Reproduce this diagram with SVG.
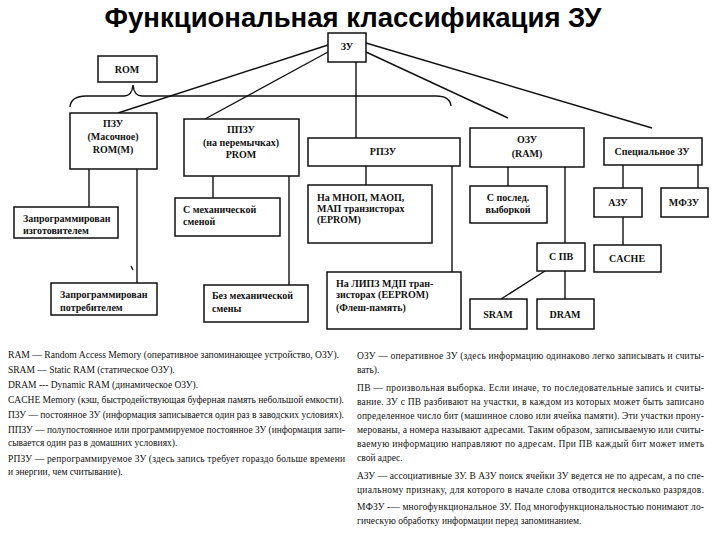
<svg xmlns="http://www.w3.org/2000/svg" width="720" height="540" viewBox="0 0 720 540">
<style>
.box{fill:#fff;stroke:#111;stroke-width:1.5}
.ln{fill:none;stroke:#111;stroke-width:1.4}
.t{font-family:"Liberation Serif","Times New Roman",serif;font-size:10px;font-weight:bold;fill:#111}
.c{text-anchor:middle}
.d{font-family:"Liberation Serif","Times New Roman",serif;font-size:9.5px;fill:#111}
.title{font-family:"Liberation Sans",Arial,sans-serif;font-size:27.5px;font-weight:bold;fill:#000;text-anchor:middle}
</style>
<rect width="720" height="540" fill="#fff"/>
<text class="title" x="353" y="27">Функциональная классификация ЗУ</text>

<g id="connectors">
<path class="ln" d="M328,45 L118,113"/>
<path class="ln" d="M328,52 L205,119"/>
<path class="ln" d="M356,62 L356,138"/>
<path class="ln" d="M366,52 L508,118"/>
<path class="ln" d="M366,43 L652,128"/>
<path class="ln" d="M70,107 Q71,96 86,96 L124,96 Q132,96 133,85 Q134,96 142,96 L436,96 Q450,96 451,106"/>
<path class="ln" d="M89,169 V207 M137,169 V283"/>
<path class="ln" d="M213,176 V198 M289,176 V285"/>
<path class="ln" d="M366,166 V185 M452,166 V272"/>
<path class="ln" d="M508,167 V186 M565,167 V243"/>
<path class="ln" d="M545,271 L501,299 M565,271 V299"/>
<path class="ln" d="M623,165 V188 M698,165 V188 M623,217 V245"/>
<path class="ln" d="M131,266 L133,270"/>
</g>

<g id="zu"><rect class="box" x="328" y="33" width="38" height="29"/><text class="t c" x="347" y="50">ЗУ</text></g>
<g id="rom"><rect class="box" x="98" y="56" width="59" height="26"/><text class="t c" x="127" y="73">ROM</text></g>
<g id="pzu"><rect class="box" x="70" y="113" width="87" height="56"/>
<text class="t c" x="113" y="127">ПЗУ</text><text class="t c" x="113" y="140">(Масочное)</text><text class="t c" x="113" y="153">ROM(M)</text></g>
<g id="ppzu"><rect class="box" x="184" y="119" width="115" height="57"/>
<text class="t c" x="241" y="133">ППЗУ</text><text class="t c" x="241" y="146">(на перемычках)</text><text class="t c" x="241" y="158">PROM</text></g>
<g id="rpzu"><rect class="box" x="308" y="138" width="152" height="28"/><text class="t c" x="383" y="155">РПЗУ</text></g>
<g id="ozu"><rect class="box" x="470" y="128" width="114" height="39"/>
<text class="t c" x="527" y="143">ОЗУ</text><text class="t c" x="527" y="157">(RAM)</text></g>
<g id="spec"><rect class="box" x="604" y="138" width="98" height="27"/><text class="t c" x="652" y="155">Специальное ЗУ</text></g>

<g id="zap-izg"><rect class="box" x="14" y="207" width="104" height="31"/>
<text class="t" x="23" y="222">Запрограммирован</text><text class="t" x="23" y="234">изготовителем</text></g>
<g id="zap-potr"><rect class="box" x="51" y="283" width="106" height="32"/>
<text class="t" x="60" y="298">Запрограммирован</text><text class="t" x="60" y="311">потребителем</text></g>
<g id="s-meh"><rect class="box" x="175" y="198" width="105" height="38"/>
<text class="t" x="183" y="213">С механической</text><text class="t" x="183" y="225">сменой</text></g>
<g id="bez-meh"><rect class="box" x="204" y="285" width="104" height="37"/>
<text class="t" x="212" y="299">Без механической</text><text class="t" x="212" y="312">смены</text></g>
<g id="eprom"><rect class="box" x="308" y="185" width="124" height="58"/>
<text class="t" x="317" y="201">На МНОП, МАОП,</text><text class="t" x="317" y="212">МАП транзисторах</text><text class="t" x="317" y="223">(EPROM)</text></g>
<g id="eeprom"><rect class="box" x="327" y="272" width="134" height="57"/>
<text class="t" x="336" y="287">На ЛИПЗ МДП тран-</text><text class="t" x="336" y="298">зисторах (EEPROM)</text><text class="t" x="336" y="311">(Флеш-память)</text></g>
<g id="s-posl"><rect class="box" x="470" y="186" width="77" height="37"/>
<text class="t c" x="508" y="201">С послед.</text><text class="t c" x="508" y="213">выборкой</text></g>
<g id="s-pv"><rect class="box" x="537" y="243" width="48" height="28"/><text class="t c" x="561" y="260">С ПВ</text></g>
<g id="sram"><rect class="box" x="470" y="299" width="57" height="30"/><text class="t c" x="498" y="318">SRAM</text></g>
<g id="dram"><rect class="box" x="537" y="299" width="57" height="30"/><text class="t c" x="565" y="318">DRAM</text></g>
<g id="azu"><rect class="box" x="594" y="188" width="48" height="29"/><text class="t c" x="618" y="206">АЗУ</text></g>
<g id="mfzu"><rect class="box" x="661" y="188" width="47" height="29"/><text class="t c" x="684" y="206">МФЗУ</text></g>
<g id="cache"><rect class="box" x="594" y="245" width="67" height="27"/><text class="t c" x="627" y="262">CACHE</text></g>

<g id="notes-left">
<text class="d" x="8" y="358" textLength="331" lengthAdjust="spacingAndGlyphs">RAM — Random Access Memory (оперативное запоминающее устройство, ОЗУ).</text>
<text class="d" x="8" y="373">SRAM — Static RAM (статическое ОЗУ).</text>
<text class="d" x="8" y="388">DRAM --- Dynamic RAM (динамическое ОЗУ).</text>
<text class="d" x="8" y="403" textLength="336" lengthAdjust="spacingAndGlyphs">CACHE Memory (кэш, быстродействующая буферная память небольшой емкости).</text>
<text class="d" x="8" y="418" textLength="336" lengthAdjust="spacingAndGlyphs">ПЗУ — постоянное ЗУ (информация записывается один раз в заводских условиях).</text>
<text class="d" x="8" y="433" textLength="337" lengthAdjust="spacingAndGlyphs">ППЗУ — полупостоянное или программируемое постоянное ЗУ (информация запи-</text>
<text class="d" x="8" y="446">сывается один раз в домашних условиях).</text>
<text class="d" x="8" y="462" textLength="337" lengthAdjust="spacing">РПЗУ — репрограммируемое ЗУ (здесь запись требует гораздо больше времени</text>
<text class="d" x="8" y="475">и энергии, чем считывание).</text>
</g>
<g id="notes-right">
<text class="d" x="357" y="359" textLength="347" lengthAdjust="spacing">ОЗУ — оперативное ЗУ (здесь информацию одинаково легко записывать и считы-</text>
<text class="d" x="357" y="373">вать).</text>
<text class="d" x="357" y="391" textLength="347" lengthAdjust="spacing">ПВ — произвольная выборка. Если иначе, то последовательные запись и считы-</text>
<text class="d" x="357" y="405" textLength="347" lengthAdjust="spacing">вание. ЗУ с ПВ разбивают на участки, в каждом из которых может быть записано</text>
<text class="d" x="357" y="419" textLength="347" lengthAdjust="spacing">определенное число бит (машинное слово или ячейка памяти). Эти участки прону-</text>
<text class="d" x="357" y="433" textLength="347" lengthAdjust="spacing">мерованы, а номера называют адресами. Таким образом, записываемую или считы-</text>
<text class="d" x="357" y="447" textLength="347" lengthAdjust="spacing">ваемую информацию направляют по адресам. При ПВ каждый бит может иметь</text>
<text class="d" x="357" y="461">свой адрес.</text>
<text class="d" x="357" y="479" textLength="347" lengthAdjust="spacing">АЗУ — ассоциативные ЗУ. В АЗУ поиск ячейки ЗУ ведется не по адресам, а по спе-</text>
<text class="d" x="357" y="493" textLength="347" lengthAdjust="spacing">циальному признаку, для которого в начале слова отводится несколько разрядов.</text>
<text class="d" x="357" y="510" textLength="347" lengthAdjust="spacing">МФЗУ -— многофункциональное ЗУ. Под многофункциональностью понимают ло-</text>
<text class="d" x="357" y="524">гическую обработку информации перед запоминанием.</text>
</g>
</svg>
